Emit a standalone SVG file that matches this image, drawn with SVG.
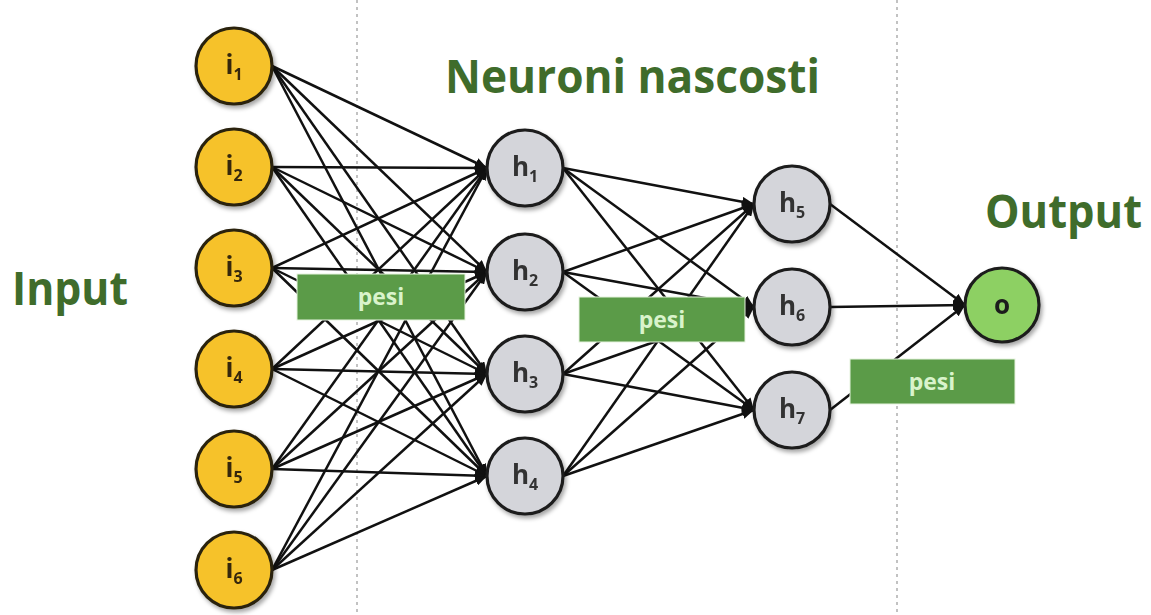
<svg xmlns="http://www.w3.org/2000/svg" width="1151" height="615" viewBox="0 0 1151 615">
<style>
.title{font-family:"Open Sans","Liberation Sans",sans-serif;font-weight:bold;font-size:46px;fill:#3f6c2b}
.guide{stroke:#9a9a9a;stroke-width:1.2;stroke-dasharray:3 4;fill:none}
.edge{stroke:#111;stroke-width:2.5;fill:none;marker-end:url(#arr)}
.inp{fill:#f6c229;stroke:#2a2410;stroke-width:3.2}
.hid{fill:#d4d5da;stroke:#1c1c1c;stroke-width:3.2}
.out{fill:#8dd064;stroke:#1c1c1c;stroke-width:3.2}
.lbl{font-family:"Open Sans","Liberation Sans",sans-serif;font-weight:bold;font-size:26px;text-anchor:middle}
.il{fill:#35280a}
.hl{fill:#333333}
.sub{font-size:16px}
.box{fill:#5b9b48;stroke:#e6f3de;stroke-width:1}
.btxt{font-family:"Open Sans","Liberation Sans",sans-serif;font-weight:bold;font-size:23px;fill:#d9f3cb;text-anchor:middle}
</style>
<defs>
<marker id="arr" markerUnits="userSpaceOnUse" markerWidth="12" markerHeight="10" refX="12" refY="5" orient="auto">
<path d="M0,0 L12,5 L0,10 Z" fill="#111"/>
</marker>
<filter id="sh" x="-30%" y="-30%" width="160%" height="160%">
<feDropShadow dx="2" dy="3" stdDeviation="2" flood-color="#000" flood-opacity="0.35"/>
</filter>
</defs>
<rect width="1151" height="615" fill="#ffffff"/>
<g id="guides">
<line class="guide" x1="357" y1="0" x2="357" y2="615"/>
<line class="guide" x1="897" y1="0" x2="897" y2="615"/>
</g>
<g id="connectors">
<line class="edge" x1="272" y1="66" x2="487" y2="168"/><line class="edge" x1="272" y1="66" x2="487" y2="272"/><line class="edge" x1="272" y1="66" x2="487" y2="374"/><line class="edge" x1="272" y1="66" x2="487" y2="476"/>
<line class="edge" x1="272" y1="167" x2="487" y2="168"/><line class="edge" x1="272" y1="167" x2="487" y2="272"/><line class="edge" x1="272" y1="167" x2="487" y2="374"/><line class="edge" x1="272" y1="167" x2="487" y2="476"/>
<line class="edge" x1="272" y1="268" x2="487" y2="168"/><line class="edge" x1="272" y1="268" x2="487" y2="272"/><line class="edge" x1="272" y1="268" x2="487" y2="374"/><line class="edge" x1="272" y1="268" x2="487" y2="476"/>
<line class="edge" x1="272" y1="369" x2="487" y2="168"/><line class="edge" x1="272" y1="369" x2="487" y2="272"/><line class="edge" x1="272" y1="369" x2="487" y2="374"/><line class="edge" x1="272" y1="369" x2="487" y2="476"/>
<line class="edge" x1="272" y1="469" x2="487" y2="168"/><line class="edge" x1="272" y1="469" x2="487" y2="272"/><line class="edge" x1="272" y1="469" x2="487" y2="374"/><line class="edge" x1="272" y1="469" x2="487" y2="476"/>
<line class="edge" x1="272" y1="570" x2="487" y2="168"/><line class="edge" x1="272" y1="570" x2="487" y2="272"/><line class="edge" x1="272" y1="570" x2="487" y2="374"/><line class="edge" x1="272" y1="570" x2="487" y2="476"/>
<line class="edge" x1="563" y1="168" x2="754" y2="204"/><line class="edge" x1="563" y1="168" x2="754" y2="307"/><line class="edge" x1="563" y1="168" x2="754" y2="410"/>
<line class="edge" x1="563" y1="272" x2="754" y2="204"/><line class="edge" x1="563" y1="272" x2="754" y2="307"/><line class="edge" x1="563" y1="272" x2="754" y2="410"/>
<line class="edge" x1="563" y1="374" x2="754" y2="204"/><line class="edge" x1="563" y1="374" x2="754" y2="307"/><line class="edge" x1="563" y1="374" x2="754" y2="410"/>
<line class="edge" x1="563" y1="476" x2="754" y2="204"/><line class="edge" x1="563" y1="476" x2="754" y2="307"/><line class="edge" x1="563" y1="476" x2="754" y2="410"/>
<line class="edge" x1="830" y1="204" x2="965" y2="305"/><line class="edge" x1="830" y1="307" x2="965" y2="305"/><line class="edge" x1="830" y1="410" x2="965" y2="305"/>
</g>
<g id="i1" filter="url(#sh)"><circle class="inp" cx="234" cy="66" r="38"/><text class="lbl il" x="234" y="74">i<tspan class="sub" dy="6">1</tspan></text></g>
<g id="i2" filter="url(#sh)"><circle class="inp" cx="234" cy="167" r="38"/><text class="lbl il" x="234" y="175">i<tspan class="sub" dy="6">2</tspan></text></g>
<g id="i3" filter="url(#sh)"><circle class="inp" cx="234" cy="268" r="38"/><text class="lbl il" x="234" y="276">i<tspan class="sub" dy="6">3</tspan></text></g>
<g id="i4" filter="url(#sh)"><circle class="inp" cx="234" cy="369" r="38"/><text class="lbl il" x="234" y="377">i<tspan class="sub" dy="6">4</tspan></text></g>
<g id="i5" filter="url(#sh)"><circle class="inp" cx="234" cy="469" r="38"/><text class="lbl il" x="234" y="477">i<tspan class="sub" dy="6">5</tspan></text></g>
<g id="i6" filter="url(#sh)"><circle class="inp" cx="234" cy="570" r="38"/><text class="lbl il" x="234" y="578">i<tspan class="sub" dy="6">6</tspan></text></g>
<g id="h1" filter="url(#sh)"><circle class="hid" cx="525" cy="168" r="38"/><text class="lbl hl" x="525" y="176">h<tspan class="sub" dy="6">1</tspan></text></g>
<g id="h2" filter="url(#sh)"><circle class="hid" cx="525" cy="272" r="38"/><text class="lbl hl" x="525" y="280">h<tspan class="sub" dy="6">2</tspan></text></g>
<g id="h3" filter="url(#sh)"><circle class="hid" cx="525" cy="374" r="38"/><text class="lbl hl" x="525" y="382">h<tspan class="sub" dy="6">3</tspan></text></g>
<g id="h4" filter="url(#sh)"><circle class="hid" cx="525" cy="476" r="38"/><text class="lbl hl" x="525" y="484">h<tspan class="sub" dy="6">4</tspan></text></g>
<g id="h5" filter="url(#sh)"><circle class="hid" cx="792" cy="204" r="38"/><text class="lbl hl" x="792" y="212">h<tspan class="sub" dy="6">5</tspan></text></g>
<g id="h6" filter="url(#sh)"><circle class="hid" cx="792" cy="307" r="38"/><text class="lbl hl" x="792" y="315">h<tspan class="sub" dy="6">6</tspan></text></g>
<g id="h7" filter="url(#sh)"><circle class="hid" cx="792" cy="410" r="38"/><text class="lbl hl" x="792" y="418">h<tspan class="sub" dy="6">7</tspan></text></g>
<g id="o" filter="url(#sh)"><circle class="out" cx="1002" cy="305" r="37"/><text class="lbl" x="1002" y="314" fill="#1c1c1c">o</text></g>
<g id="pesi1"><rect class="box" x="297" y="274" width="168" height="46"/><text class="btxt" x="381" y="305">pesi</text></g>
<g id="pesi2"><rect class="box" x="579" y="297" width="166" height="45"/><text class="btxt" x="662" y="328">pesi</text></g>
<g id="pesi3"><rect class="box" x="850" y="359" width="165" height="45"/><text class="btxt" x="932" y="390">pesi</text></g>
<g id="labels">
<text class="title" x="12" y="305" textLength="116" lengthAdjust="spacingAndGlyphs">Input</text>
<text class="title" x="445" y="93" textLength="375" lengthAdjust="spacingAndGlyphs">Neuroni nascosti</text>
<text class="title" x="985" y="228" textLength="157" lengthAdjust="spacingAndGlyphs">Output</text>
</g>
</svg>
